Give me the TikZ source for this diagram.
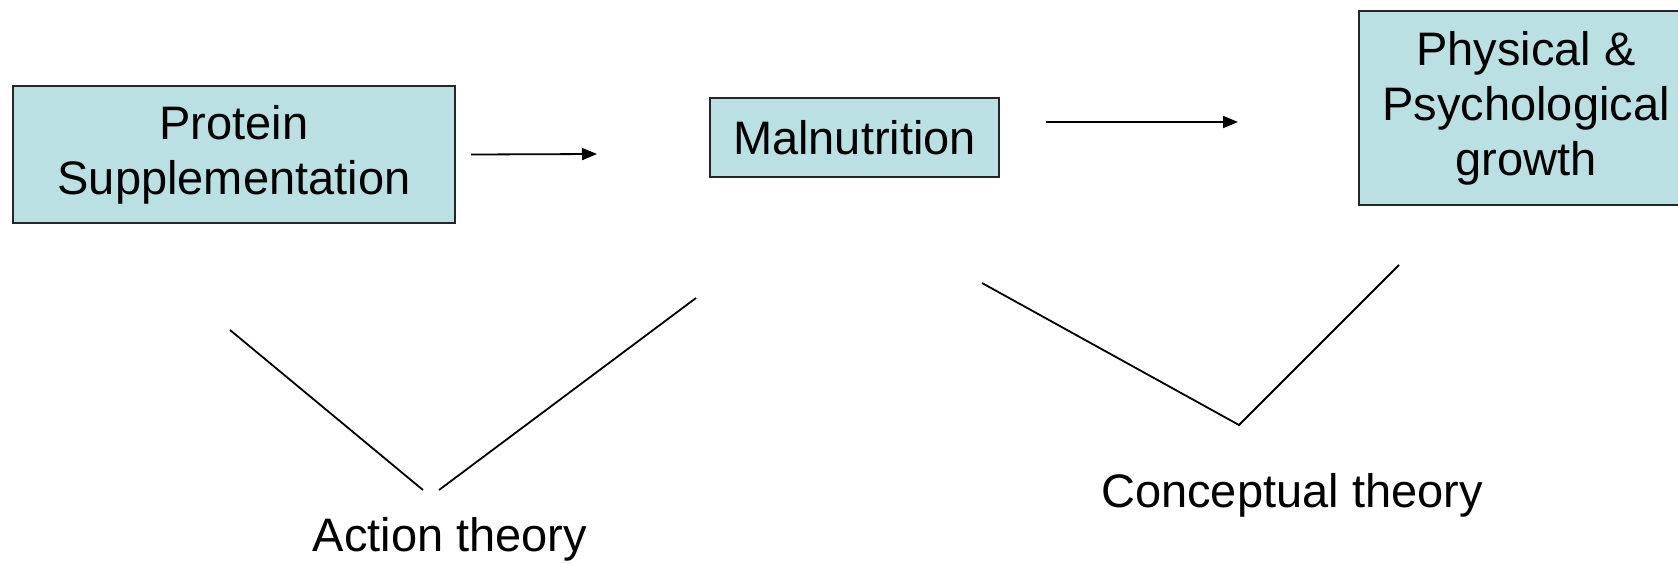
\documentclass[tikz,border=0pt]{standalone}
\usepackage{fontspec}
\setmainfont{Liberation Sans}
\usetikzlibrary{arrows.meta}
\definecolor{boxfill}{RGB}{187,224,227}
\tikzset{
  stagebox/.style={draw=black!85, line width=1pt, fill=boxfill, align=center,
    inner sep=0pt, font=\fontsize{23.5}{27.5}\selectfont},
  flow/.style={line width=0.9pt, -{Triangle[length=7.5pt,width=6pt]}},
  theoryline/.style={line width=0.9pt},
  theorylabel/.style={inner sep=0pt, font=\fontsize{23.5}{27.5}\selectfont}
}
\begin{document}
\begin{tikzpicture}[x=0.5pt,y=-0.5pt]
\useasboundingbox (0,0) rectangle (1678,563);
\begin{scope}
\clip (0,0) rectangle (1678,563);
% process stages
\node[stagebox, minimum width=221pt, minimum height=68.5pt] (protein) at (234,154.5)
  {Protein\\Supplementation};
\node[stagebox, minimum width=144.5pt, minimum height=39.5pt] (malnut) at (854.5,137.5)
  {Malnutrition};
\node[stagebox, minimum width=167pt, minimum height=97pt] (growth) at (1526,108)
  {Physical \&\\Psychological\\growth};

% flow arrows between the stages
\coordinate (a1s) at ([xshift=7.5pt]protein.east);
\coordinate (a1e) at (597,154);
\draw[flow] (a1s) -- (a1e);
\coordinate (a2s) at (1046,122);
\coordinate (a2e) at (1238,122);
\draw[flow] (a2s) -- (a2e);

% action theory bracket
\coordinate (act1) at (230,330);
\coordinate (act2) at (423,490);
\coordinate (act3) at (439,490);
\coordinate (act4) at (696,298);
\draw[theoryline] (act1) -- (act2);
\draw[theoryline] (act3) -- (act4);
\node[theorylabel] (action) at (450,539) {Action theory};

% conceptual theory bracket
\coordinate (con1) at (982,283);
\coordinate (con2) at (1239,425);
\coordinate (con3) at (1399,265);
\draw[theoryline] (con1) -- (con2) -- (con3);
\node[theorylabel] (concept) at (1292,495) {Conceptual theory};
\end{scope}
\end{tikzpicture}
\end{document}
